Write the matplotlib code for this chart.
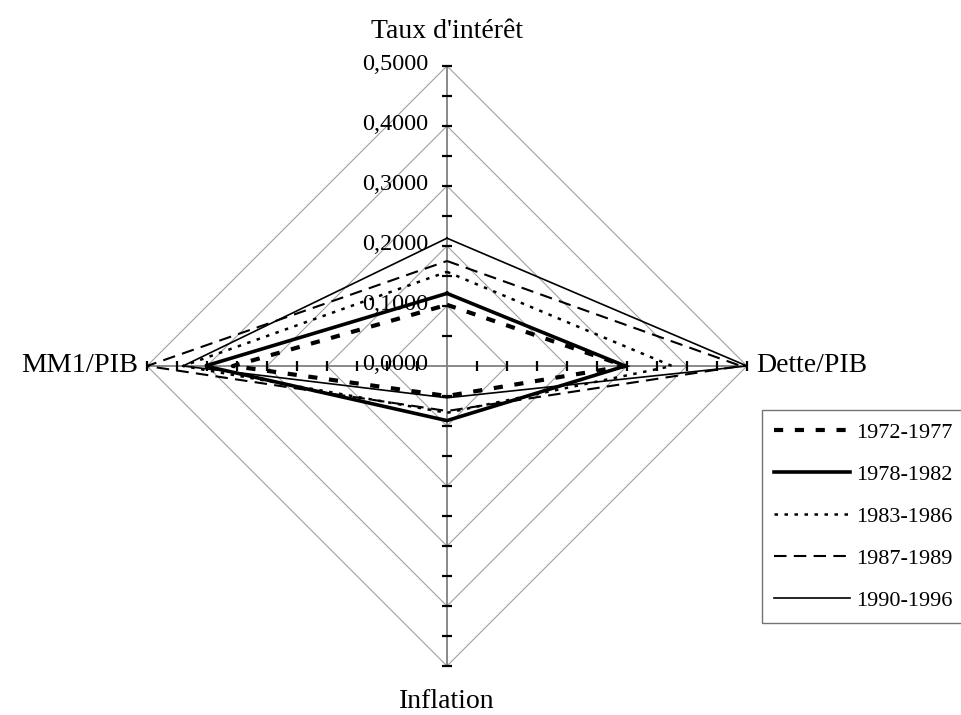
import numpy as np
import matplotlib.pyplot as plt

plt.rcParams['font.family'] = ['Liberation Serif', 'DejaVu Serif']

# donnees (axe haut, droite, bas, gauche)
axes_noms = ["Taux d'intérêt", "Dette/PIB", "Inflation", "MM1/PIB"]
periodes = ['1972-1977', '1978-1982', '1983-1986', '1987-1989', '1990-1996']
taux = [0.102, 0.121, 0.157, 0.175, 0.213]
dette = [0.297, 0.297, 0.375, 0.490, 0.500]
inflation = [0.050, 0.091, 0.078, 0.075, 0.053]
mm1 = [0.357, 0.403, 0.440, 0.500, 0.440]
graduations = [0.0, 0.1, 0.2, 0.3, 0.4, 0.5]
rmax = 0.5

# styles des series
largeurs = [3.0, 2.6, 1.8, 1.5, 1.2]
tirets = [(2.2, 2.8), None, (1.4, 2.6), (6.0, 3.5), None]

angles = np.deg2rad([0, 90, 180, 270])


def xy(valeurs):
    r = np.append(valeurs, valeurs[0])
    a = np.append(angles, angles[0])
    return r * np.sin(a), r * np.cos(a)


fig = plt.figure(figsize=(9.61, 7.15), dpi=100)
ax = fig.add_axes([147 / 961, 49 / 715, 600 / 961, 600 / 715])
ax.set_xlim(-rmax, rmax)
ax.set_ylim(-rmax, rmax)
ax.axis('off')

# grille en losanges
for g in graduations[1:]:
    gx, gy = xy([g] * 4)
    ax.plot(gx, gy, color='#a0a0a0', lw=0.8, zorder=1, clip_on=False)

# axes radiaux et graduations
for a in angles:
    ax.plot([0, rmax * np.sin(a)], [0, rmax * np.cos(a)], color='#808080', lw=1.3,
            zorder=2, clip_on=False)
    pas = np.arange(0.05, rmax + 0.001, 0.05)
    m = '_' if abs(np.sin(a)) < 0.5 else '|'
    ax.plot(pas * np.sin(a), pas * np.cos(a), ls='none', marker=m, ms=7, mew=1.6,
            color='black', zorder=2, clip_on=False)

# etiquettes de l'axe
for g in graduations:
    ax.annotate(('%.4f' % g).replace('.', ','), xy=(0, g), xytext=(-19, 1),
                textcoords='offset pixels', ha='right', va='center', fontsize=17.5)

# series
for i, p in enumerate(periodes):
    sx, sy = xy([taux[i], dette[i], inflation[i], mm1[i]])
    ligne, = ax.plot(sx, sy, color='black', lw=largeurs[i], label=p, zorder=3,
                     clip_on=False, solid_joinstyle='miter')
    if tirets[i] is not None:
        ligne.set_dashes(tirets[i])
        ligne.set_dash_capstyle('butt')

# noms des axes
ax.annotate(axes_noms[0], xy=(0, rmax), xytext=(0, 34), textcoords='offset pixels',
            ha='center', va='center', fontsize=20)
ax.annotate(axes_noms[1], xy=(rmax, 0), xytext=(9, 0), textcoords='offset pixels',
            ha='left', va='center', fontsize=20)
ax.annotate(axes_noms[2], xy=(0, -rmax), xytext=(0, -35), textcoords='offset pixels',
            ha='center', va='center', fontsize=20)
ax.annotate(axes_noms[3], xy=(-rmax, 0), xytext=(-9, 0), textcoords='offset pixels',
            ha='right', va='center', fontsize=20.5)

leg = fig.legend(loc='upper left', bbox_to_anchor=(762 / 961, 1 - 410 / 715),
                 fontsize=16, frameon=True, fancybox=False, handlelength=3.4,
                 handletextpad=0.3, labelspacing=0.97, borderpad=0.55,
                 borderaxespad=0)
leg.get_frame().set_edgecolor('#505050')
leg.get_frame().set_linewidth(1.0)

fig.savefig('out.png', dpi=100)
